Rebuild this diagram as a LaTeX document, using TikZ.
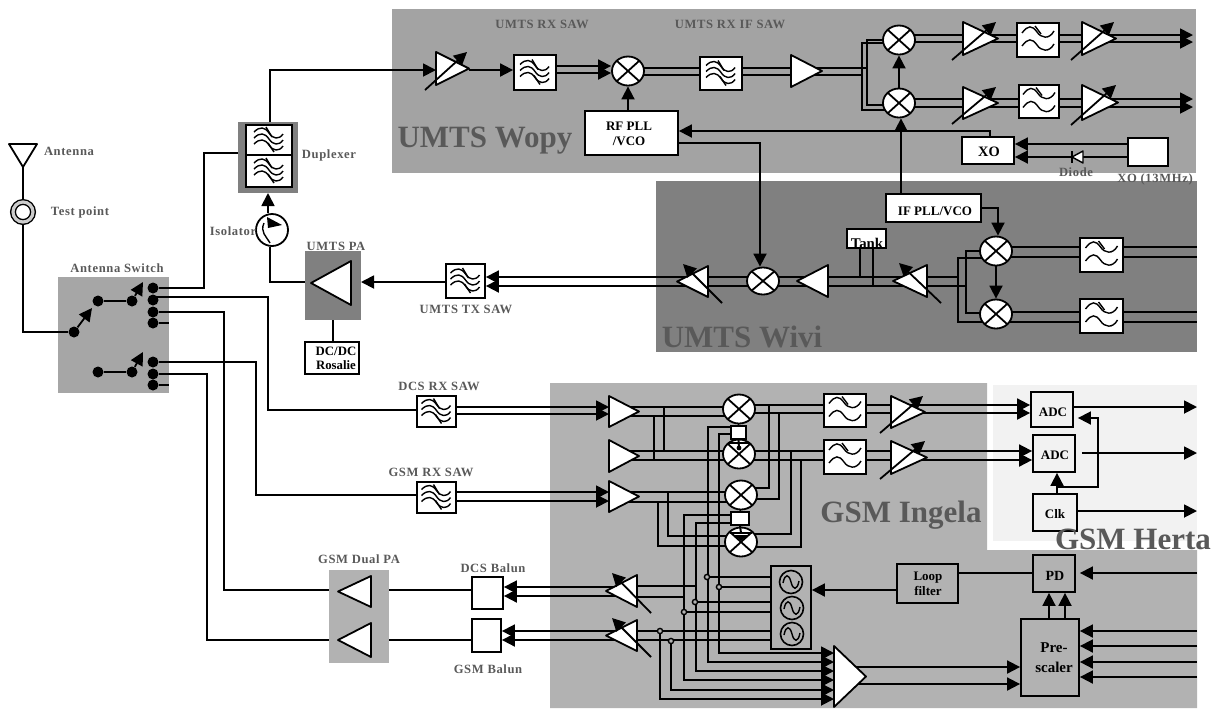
\documentclass[tikz,border=0pt]{standalone}
\usepackage{fontspec}
\setmainfont{Liberation Serif}
\newfontfamily\lblfont[LetterSpace=5]{Liberation Serif}
\usetikzlibrary{arrows.meta,fit,calc,shapes.geometric}
\definecolor{wopybg}{HTML}{A3A3A3}
\definecolor{wivibg}{HTML}{808080}
\definecolor{ingelabg}{HTML}{B2B2B2}
\definecolor{hertabg}{HTML}{F2F2F2}
\definecolor{switchbg}{HTML}{A6A6A6}
\definecolor{labelgray}{HTML}{595959}
\pgfdeclarelayer{blocks}
\pgfsetlayers{main,blocks}
\newcommand{\sawwaves}[1]{%
  \foreach \d in {-6,0,6}
    \draw[wave,shift={($(#1)+(0,\d)$)}] (-15,-2) .. controls (-9,-8) and (-4,-7) .. (0,-1) .. controls (4,5) and (10,6) .. (14,0);
  \draw[wave,shift={(#1)}] (-3,-13) -- (3,-3) (-1,3) -- (5,12);}
\newcommand{\lpfwaves}[1]{%
  \foreach \d in {-6,7}
    \draw[wave,shift={($(#1)+(0,\d)$)}] (-16,-1) .. controls (-10,-9) and (-6,-9) .. (-1,-2) .. controls (3,4) and (11,6) .. (16,-3);
  \draw[wave,shift={(#1)}] (-3,-14) -- (3,-6);}
\tikzset{
  zone/.style={fill=#1,inner sep=0pt,outer sep=0pt},
  blk/.style={rectangle,draw=black,fill=white,line width=.9pt,inner sep=0pt},
  blkn/.style={blk,fill=none},
  wave/.style={line width=.7pt,draw=black},
  mixer/.style={ellipse,draw=black,fill=white,line width=.9pt,inner sep=0pt,
    minimum width=16pt,minimum height=14.5pt,
    path picture={\draw[line width=.9pt] (path picture bounding box.north west)--(path picture bounding box.south east)
      (path picture bounding box.north east)--(path picture bounding box.south west);}},
  oscc/.style={circle,draw=black,line width=.8pt,inner sep=0pt,minimum size=11.5pt,
    path picture={\draw[shift={(path picture bounding box.center)},line width=.7pt]
      (-8,1) .. controls (-6,-9) and (-2,-8) .. (0,0) .. controls (2,8) and (6,9) .. (8,-1);}},
  ampbox/.style={rectangle,inner sep=0pt,outer sep=0pt},
  ampd/.style={draw=black,fill=white,line width=.9pt,line join=round},
  wr/.style={draw=black,line width=.9pt},
  ar/.style={wr,-{Triangle[length=6.5pt,width=6.5pt]}},
  dotc/.style={circle,fill=black,inner sep=0pt,minimum size=5.5pt},
  jnc/.style={circle,draw=black,fill=ingelabg,line width=.7pt,inner sep=0pt,minimum size=2.6pt},
  lbl/.style={font=\fontsize{6.3}{7.5}\lblfont\bfseries,text=labelgray,inner sep=0pt},
  txt/.style={font=\fontsize{6.5}{7.6}\selectfont\bfseries,align=center,inner sep=0pt},
  big/.style={font=\fontsize{15.5}{18}\selectfont\bfseries,text=labelgray,inner sep=0pt},
}
\newcommand{\ampr}[5]{\node[ampbox,fit={(#2,#3) (#4,#5)}] (#1) {};
  \draw[ampd] (#1.north west) -- (#1.east) -- (#1.south west) -- cycle;}
\newcommand{\ampl}[5]{\node[ampbox,fit={(#2,#3) (#4,#5)}] (#1) {};
  \draw[ampd] (#1.north east) -- (#1.west) -- (#1.south east) -- cycle;}
\newcommand{\vgar}[5]{\ampr{#1}{#2}{#3}{#4}{#5}
  \draw[ar] ($(#1.south west)+(-11,5)$) -- ($(#1.north east)+(-2,0)$);}
\newcommand{\vgal}[5]{\ampl{#1}{#2}{#3}{#4}{#5}
  \draw[ar] ($(#1.south east)+(14,6)$) -- ($(#1.north west)+(6,-2)$);}

\begin{document}
\begin{tikzpicture}[x=.5pt,y=-.5pt]
  \useasboundingbox (0,0) rectangle (1221,708);
  % zones
  \node[zone=wopybg,fit={(392,9) (1196,173)}] (wopy) {};
  \node[zone=wivibg,fit={(656,181) (1197,352)}] (wivi) {};
  \fill[ingelabg] (550,383) -- (987,383) -- (987,550) -- (1197,550) -- (1197,708) -- (550,708) -- cycle;
  \node[zone=hertabg,fit={(993,385) (1197,541)}] (herta) {};
  \node[zone=switchbg,fit={(58,277) (169,393)}] (swz) {};
  \node[zone=wivibg,fit={(238,122) (298,193)}] (dup) {};
  \node[zone=wivibg,fit={(305,251) (361,320)}] (paz) {};
  \node[zone=ingelabg,fit={(329,570) (389,663)}] (gpa) {};

  \begin{pgfonlayer}{blocks}
  % antenna and switch
  \node[ampbox,fit={(9,144) (37,167)}] (ant) {};
  \draw[ampd] (ant.north west) -- (ant.north east) -- (ant.south) -- cycle;
  \node[circle,draw=black,fill=white,line width=.7pt,double=gray!40,double distance=1.6pt,inner sep=0pt,minimum size=10pt] (tp) at (23,212) {};
  \node[dotc] (sa) at (74,332) {};
  \node[dotc] (sb) at (98,301) {};
  \node[dotc] (sc) at (132,301) {};
  \node[dotc] (sd) at (98,372) {};
  \node[dotc] (se) at (132,372) {};
  \coordinate (sat) at (92,308);
  \coordinate (sct) at (143,282);
  \coordinate (set) at (143,352);
  \foreach \n/\y in {pa/288,pb/300,pc/312,pd1/323,pe/362,pf/374,pg/385}
    \node[dotc] (\n) at (153,\y) {};
  % duplexer, isolator, umts pa
  \node[blk,fit={(246,125) (292,155)}] (dupu) {};
  \node[blk,fit={(246,155) (292,187)}] (dupl) {};
  \node[circle,draw=black,fill=white,line width=.9pt,inner sep=0pt,minimum size=16pt] (iso) at (272,230) {};
  \fill[black] (267,217) -- (282,225) -- (268,228) -- cycle;
  \draw[line width=.7pt] (264,223) .. controls (260,232) and (266,236) .. (270,243);
  \ampl{upa}{311}{261}{351}{305}
  \node[blk,fit={(305,342) (359,374)}] (dcdc) {};
  \node[txt,font=\fontsize{6.4}{7}\selectfont\bfseries] (tdc) at (336,358) {DC/DC\\Rosalie};
  \node[blk,fit={(446,264) (485,298)}] (txsaw) {};
  % wopy
  \vgar{lna}{436}{52}{469}{85}
  \node[blk,fit={(514,55) (556,90)}] (rxsaw) {};
  \node[mixer] (mxr) at (628,71) {};
  \node[blk,fit={(700,57) (742,90)}] (ifsaw) {};
  \ampr{ifa}{791}{55}{822}{87}
  \node[blk,fit={(585,111) (678,155)}] (rfpll) {};
  \node[txt] (trf) at (629,134) {RF PLL\\/VCO};
  \node[mixer] (mxa) at (899,40) {};
  \node[mixer] (mxb) at (899,103) {};
  \vgar{vaa}{963}{22}{998}{55}
  \node[blk,fit={(1017,23) (1059,57)}] (fla) {};
  \vgar{vab}{1082}{22}{1116}{55}
  \vgar{vba}{963}{87}{998}{119}
  \node[blk,fit={(1019,85) (1059,118)}] (flb) {};
  \vgar{vbb}{1082}{85}{1118}{120}
  \node[blk,fit={(962,137) (1014,164)}] (xo) {};
  \node[txt,font=\fontsize{7.2}{8}\selectfont\bfseries] (txo) at (989,152) {XO};
  \node[blk,fit={(1128,138) (1168,166)}] (xtal) {};
  \node[ampbox,fit={(1072,151) (1083,163)}] (dio) {};
  \draw[ampd,line width=.7pt] (dio.north east) -- (dio.west) -- (dio.south east) -- cycle;
  \draw[line width=1pt] (dio.north west) -- (dio.south west);
  \coordinate (outa) at (1193,38);
  % wivi
  \node[blk,fit={(886,194) (981,222)}] (ifpll) {};
  \node[txt] (tif) at (935,211) {IF PLL/VCO};
  \node[blk,fit={(847,229) (886,248)}] (tank) {};
  \node[txt,font=\fontsize{7.4}{8}\selectfont\bfseries] (ttk) at (867,243) {Tank};
  \node[mixer] (mxc) at (996,251) {};
  \node[mixer] (mxd) at (996,314) {};
  \node[blk,fit={(1080,238) (1123,272)}] (flc) {};
  \node[blk,fit={(1080,299) (1123,333)}] (fld) {};
  \vgal{vwb}{893}{265}{927}{297}
  \ampl{amw}{797}{265}{828}{297}
  \node[mixer,minimum height=13.5pt] (mxw) at (763,281) {};
  \vgal{vwa}{677}{266}{708}{297}
  \coordinate (outw) at (1197,281);
  % gsm rx
  \node[blk,fit={(417,396) (456,427)}] (sawd) {};
  \node[blk,fit={(417,482) (456,513)}] (sawg) {};
  \ampr{lnd}{609}{396}{639}{427}
  \ampr{lne}{609}{440}{639}{472}
  \ampr{lng}{609}{481}{639}{512}
  \node[mixer] (mia) at (739,409) {};
  \node[mixer] (mib) at (739,454) {};
  \node[mixer] (mic) at (741,495) {};
  \node[mixer] (mid) at (741,542) {};
  \node[blk,fit={(731,426) (746,439)}] (bfa) {};
  \node[blk,fit={(731,512) (749,525)}] (bfb) {};
  \draw[line width=1.1pt] (729,443) -- (749,443);
  \draw[line width=1pt] (bfa.south) -- (739,449);
  \fill[black] (739,448) circle[radius=2.4];
  \draw[line width=1.1pt] (730,533) -- (752,533);
  \draw[line width=1pt] (bfb.south) -- (741,533);
  \fill[black] (734,535) -- (748,535) -- (741,541) -- cycle;
  \draw[line width=1pt] (mia.south) -- (bfa.north);
  \draw[line width=1pt] (mic.south) -- (bfb.north);
  \node[blk,fit={(824,394) (866,427)}] (fle) {};
  \node[blk,fit={(824,440) (866,474)}] (flf) {};
  \vgar{vea}{891}{396}{925}{428}
  \vgar{vfa}{891}{441}{927}{474}
  \node[blkn,fit={(1031,392) (1073,427)}] (adca) {};
  \node[blkn,fit={(1033,435) (1075,472)}] (adcb) {};
  \node[blkn,fit={(1033,494) (1077,531)}] (clk) {};
  \node[txt] (tad) at (1053,412) {ADC};
  \node[txt] (tae) at (1055,455) {ADC};
  \node[txt] (tck) at (1055,514) {Clk};
  \coordinate (oute) at (1197,453);
  % filter marks
  \foreach \n in {dupu,dupl,txsaw,rxsaw,ifsaw,sawd,sawg} {\sawwaves{\n}}
  \foreach \n in {fla,flb,flc,fld,fle,flf} {\lpfwaves{\n}}
  % gsm tx
  \node[blk,fit={(472,577) (503,609)}] (bald) {};
  \node[blk,fit={(472,619) (501,652)}] (balg) {};
  \ampl{gpb}{338}{576}{371}{607}
  \ampl{gpc}{338}{623}{371}{657}
  \vgal{vta}{606}{575}{637}{607}
  \vgal{vtb}{606}{620}{637}{651}
  \node[blkn,fit={(771,566) (811,649)}] (osc) {};
  \node[oscc] (osa) at (791,582) {};
  \node[oscc] (osb) at (792,608) {};
  \node[oscc] (osd) at (792,634) {};
  \foreach \n/\x/\y in {ja/707/577,jb/719/587,jc/695/602,jd/684/612,je/660/631,jf/671/641}
    \node[jnc] (\n) at (\x,\y) {};
  \ampr{cmb}{834}{646}{866}{707}
  \node[blkn,fit={(897,564) (958,603)}] (loop) {};
  \node[txt] (tlp) at (928,584) {Loop\\filter};
  \node[blkn,fit={(1033,555) (1075,592)}] (pdt) {};
  \node[txt,font=\fontsize{7}{8}\selectfont\bfseries] (tpd) at (1055,576) {PD};
  \node[blkn,fit={(1021,619) (1079,696)}] (pre) {};
  \node[txt,font=\fontsize{7.5}{10}\selectfont\bfseries] (tpr) at (1054,658) {Pre-\\scaler};
  \coordinate (inpd) at (1197,573);
  % labels
  \node[lbl] (lant) at (69,151) {Antenna};
  \node[lbl] (ltp) at (80,212) {Test point};
  \node[lbl] (lsw) at (117,268) {Antenna Switch};
  \node[lbl] (ldup) at (329,155) {Duplexer};
  \node[lbl] (liso) at (233,231) {Isolator};
  \node[lbl] (lpa) at (336,246) {UMTS PA};
  \node[lbl] (lrs) at (542,24) {UMTS RX SAW};
  \node[lbl] (lis) at (730,24) {UMTS RX IF SAW};
  \node[big] (lwo) at (485,141) {UMTS Wopy};
  \node[big] (lwi) at (742,337) {UMTS Wivi};
  \node[big] (lin) at (901,515) {GSM Ingela};
  \node[big] (lhe) at (1133,539) {GSM Herta};
  \node[lbl] (ldi) at (1076,172) {Diode};
  \node[lbl] (lxo) at (1155,179) {XO (13MHz)};
  \node[lbl] (ltx) at (466,309) {UMTS TX SAW};
  \node[lbl] (ldr) at (439,386) {DCS RX SAW};
  \node[lbl] (lgr) at (431,472) {GSM RX SAW};
  \node[lbl] (lgd) at (359,559) {GSM Dual PA};
  \node[lbl] (ldb) at (493,568) {DCS Balun};
  \node[lbl] (lgb) at (488,669) {GSM Balun};
  \end{pgfonlayer}

  % antenna side
  \draw[wr] (ant.south) -- (tp.north);
  \draw[wr] (tp.south) |- (sa);
  \draw[ar] (sa) -- (sat);
  \draw[wr] (sb) -- (sc);
  \draw[ar] (sc) -- (sct);
  \draw[wr] (sd) -- (se);
  \draw[ar] (se) -- (set);
  \draw[wr] (pa) -- (204,288) -- (204,153) -- (dup.west |- 0,153);
  \draw[wr] (pb |- 0,297) -- (268,297) -- (268,410) -- (sawd.west |- 0,410);
  \draw[wr] (pc) -- (224,312) -- (224,590) -- (gpa.west |- 0,590);
  \draw[wr] (pd1) -- (swz.east |- pd1);
  \draw[wr] (pe) -- (256,362) -- (256,495) -- (sawg.west |- 0,495);
  \draw[wr] (pf) -- (207,374) -- (207,640) -- (gpa.west |- 0,640);
  \draw[wr] (pg) -- (swz.east |- pg);
  % duplexer and umts tx
  \draw[ar] (dup.north -| 270,0) |- (lna.west |- 0,70);
  \draw[ar] (iso.north -| 268,0) -- (dup.south -| 268,0);
  \draw[wr] (iso.south -| 270,0) |- (paz.west |- 0,282);
  \draw[wr] (paz.south -| 333,0) -- (dcdc.north -| 333,0);
  \draw[ar] (txsaw.west |- 0,282) -- (paz.east |- 0,282);
  % wopy
  \draw[ar] (lna.east |- 0,70) -- (rxsaw.west |- 0,70);
  \foreach \y in {66,73} \draw[ar] (rxsaw.east |- 0,\y) -- (mxr.west |- 0,\y);
  \foreach \y in {68,75} \draw[wr] (mxr |- 0,\y) -- (ifa |- 0,\y);
  \draw[ar] (rfpll.north -| mxr) -- (mxr.south);
  \draw[wr] (ifa |- 0,68) -- (867,68);
  \draw[wr] (ifa |- 0,75) -- (862,75);
  \draw[wr] (mxa |- 0,40) -- (867,40) -- (867,105) -- (mxb |- 0,105);
  \draw[wr] (mxa |- 0,43) -- (862,43) -- (862,110) -- (mxb |- 0,110);
  \draw[ar] (mxb.north) -- (mxa.south);
  \draw[ar] (ifpll.north -| 901,0) -- (mxb.south -| 901,0);
  \draw[ar] (xo.north -| 990,0) |- (rfpll.east |- 0,131);
  \draw[ar] (rfpll.east |- 0,143) -| (mxw.north -| 760,0);
  \foreach \y in {35,42} {
    \draw[wr] (mxa |- 0,\y) -- (vab |- 0,\y);
    \draw[ar] (vab |- 0,\y) -- (outa |- 0,\y);}
  \foreach \y in {99,107} {
    \draw[wr] (mxb |- 0,\y) -- (vbb |- 0,\y);
    \draw[ar] (vbb |- 0,\y) -- (outa |- 0,\y);}
  \draw[ar] (xtal.west |- 0,144) -- (xo.east |- 0,144);
  \draw[ar] (xtal.west |- 0,157) -- (xo.east |- 0,157);
  % wivi
  \draw[ar] (ifpll.east) -| (mxc.north -| 998,0);
  \draw[ar] (mxc.south) -- (mxd.north);
  \draw[wr] (mxc |- 0,251) -- (966,251) -- (966,313) -- (mxd |- 0,313);
  \draw[wr] (mxc |- 0,258) -- (958,258) -- (958,322) -- (mxd |- 0,322);
  \draw[wr] (vwb |- 0,277) -- (958,277);
  \draw[wr] (vwb |- 0,286) -- (966,286);
  \foreach \y in {247,257} \draw[wr] (mxc |- 0,\y) -- (outw |- 0,\y);
  \foreach \y in {312,322} \draw[wr] (mxd |- 0,\y) -- (outw |- 0,\y);
  \foreach \y in {277,286} {
    \draw[wr] (vwb |- 0,\y) -- (vwa |- 0,\y);
    \draw[ar] (vwa |- 0,\y) -- (txsaw.east |- 0,\y);}
  \draw[wr] (tank.south -| 860,0) |- (amw |- 0,277);
  \draw[wr] (tank.south -| 873,0) |- (amw |- 0,286);
  % gsm rx
  \foreach \y in {407,414} \draw[ar] (sawd.east |- 0,\y) -- (lnd.west |- 0,\y);
  \foreach \y in {492,501} \draw[ar] (sawg.east |- 0,\y) -- (lng.west |- 0,\y);
  \foreach \y in {407,416} \draw[wr] (lnd |- 0,\y) -- (mia |- 0,\y);
  \foreach \y in {451,460} \draw[wr] (lne |- 0,\y) -- (mib |- 0,\y);
  \foreach \y in {492,502} \draw[wr] (lng |- 0,\y) -- (mic |- 0,\y);
  \draw[wr] (lnd |- 0,407) -- (664,407) -- (664,451) -- (lne |- 0,451);
  \draw[wr] (lnd |- 0,416) -- (654,416) -- (654,460) -- (lne |- 0,460);
  \draw[wr] (lng |- 0,492) -- (668,492) -- (668,536) -- (mid |- 0,536);
  \draw[wr] (lng |- 0,502) -- (658,502) -- (658,546) -- (mid |- 0,546);
  \foreach \y in {405,413} {
    \draw[wr] (mia |- 0,\y) -- (vea |- 0,\y);
    \draw[ar] (vea |- 0,\y) -- (adca.west |- 0,\y);}
  \foreach \y in {451,460} {
    \draw[wr] (mib |- 0,\y) -- (vfa |- 0,\y);
    \draw[ar] (vfa |- 0,\y) -- (adcb.west |- 0,\y);}
  \draw[wr] (fle.west |- 0,405) -- (769,405) -- (769,488) -- (mic |- 0,488);
  \draw[wr] (fle.west |- 0,413) -- (779,413) -- (779,499) -- (mic |- 0,499);
  \draw[wr] (flf.west |- 0,451) -- (791,451) -- (791,534) -- (mid |- 0,534);
  \draw[wr] (flf.west |- 0,460) -- (801,460) -- (801,547) -- (mid |- 0,547);
  \draw[ar] (adca.east |- 0,407) -- (oute |- 0,407);
  \draw[ar,shorten <=3pt] (adcb.east |- 0,453) -- (oute |- 0,453);
  \draw[ar] (clk.east |- 0,511) -- (oute |- 0,511);
  \draw[ar] (clk.north -| 1057,0) -- (adcb.south -| 1057,0);
  \draw[ar,shorten >=2pt] (clk.north -| 1057,0) |- (1098,487) |- (adca.east |- 0,418);
  % lo and combiner
  \draw[ar] (bfa |- 0,427) -- (708,427) -- (708,662) -- (cmb.west |- 0,662);
  \draw[ar] (bfa |- 0,434) -- (719,434) -- (719,653) -- (cmb.west |- 0,653);
  \draw[ar] (bfb |- 0,515) -- (684,515) -- (684,680) -- (cmb.west |- 0,680);
  \draw[ar] (bfb |- 0,523) -- (696,523) -- (696,671) -- (cmb.west |- 0,671);
  \foreach \n in {ja,jb,jc,jd} \draw[wr] (\n) -- (osc.west |- \n);
  \draw[ar] (je) |- (cmb.west |- 0,699);
  \draw[ar] (jf) |- (cmb.west |- 0,690);
  \foreach \y in {587,596} \draw[ar] (vta |- 0,\y) -- (bald.east |- 0,\y);
  \foreach \y in {631,640} \draw[ar] (osc.west |- 0,\y) -- (balg.east |- 0,\y);
  \draw[wr] (vta |- 0,586) -- (jc |- 0,586);
  \draw[wr] (vta |- 0,597) -- (jd |- 0,597);
  \draw[wr] (bald.west |- 0,590) -- (gpa.east |- 0,590);
  \draw[wr] (balg.west |- 0,640) -- (gpa.east |- 0,640);
  \foreach \y in {667,684} \draw[ar] (cmb |- 0,\y) -- (pre.west |- 0,\y);
  % pll
  \draw[ar] (loop.west |- 0,590) -- (osc.east |- 0,590);
  \draw[wr] (pdt.west |- 0,573) -- (loop.east |- 0,573);
  \draw[ar,shorten >=2pt] (inpd) -- (pdt.east |- inpd);
  \foreach \y in {631,646,662,677} \draw[ar] (inpd |- 0,\y) -- (pre.east |- 0,\y);
  \foreach \x in {1049,1065} \draw[ar] (pre.north -| \x,0) -- (pdt.south -| \x,0);
\end{tikzpicture}
\end{document}
